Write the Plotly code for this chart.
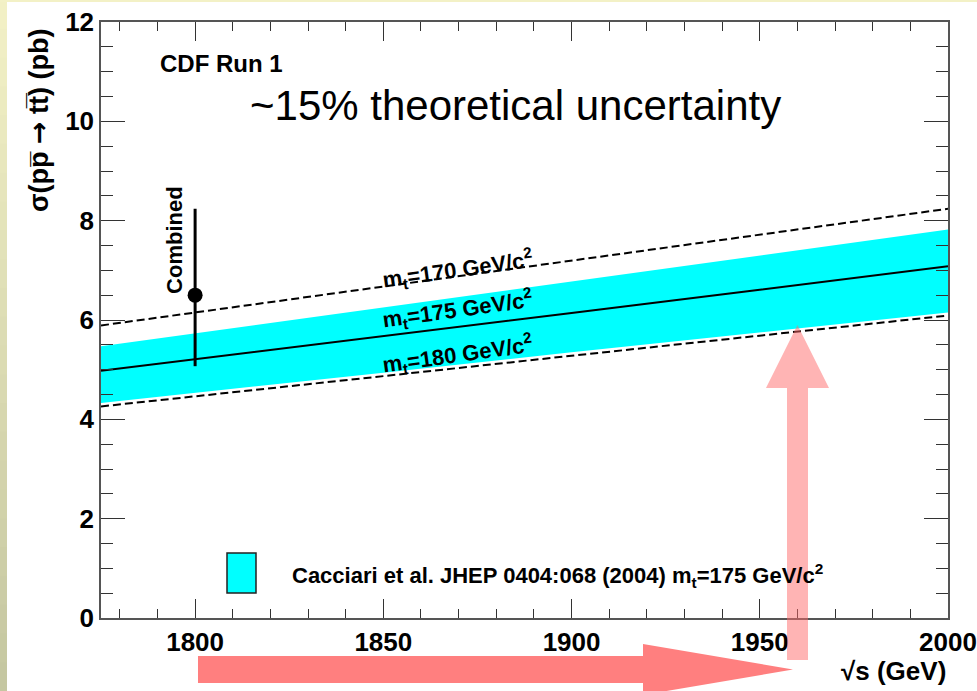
import plotly.graph_objects as go

# ---------------- data ----------------
sqrt_s = [1775, 1800, 1850, 1900, 1950, 2000]
band_upper = [5.47, 5.73, 6.25, 6.78, 7.30, 7.82]
band_lower = [4.33, 4.53, 4.94, 5.35, 5.75, 6.15]
xsec_mt175 = [4.98, 5.21, 5.67, 6.14, 6.61, 7.08]
xsec_mt170 = [5.89, 6.15, 6.67, 7.19, 7.72, 8.24]
xsec_mt180 = [4.26, 4.46, 4.87, 5.28, 5.68, 6.09]

meas_x = [1800]
meas_y = [6.5]
meas_err_up = [1.74]
meas_err_down = [1.43]

x_ticks = [1800, 1850, 1900, 1950, 2000]
y_ticks = [0, 2, 4, 6, 8, 10, 12]

# ---------------- layout geometry ----------------
W, H = 977, 691
ML, MR, MT, MB = 101, 29, 22, 73
PW = W - ML - MR
PH = H - MT - MB


def px(x):
    return (x - ML) / PW


def py(y):
    return (H - MB - y) / PH


FONT = "Liberation Sans, Arial, sans-serif"
fig = go.Figure()

fig.add_trace(go.Scatter(x=sqrt_s, y=band_lower, mode="lines", line=dict(width=0, color="#00FFFF"),
                         showlegend=False, hoverinfo="skip"))
fig.add_trace(go.Scatter(x=sqrt_s, y=band_upper, mode="lines", line=dict(width=0, color="#00FFFF"),
                         fill="tonexty", fillcolor="#00FFFF", showlegend=False,
                         name="Cacciari et al. JHEP 0404:068 (2004)"))
fig.add_trace(go.Scatter(x=sqrt_s, y=xsec_mt170, mode="lines",
                         line=dict(color="black", width=2, dash="8px,4px"), showlegend=False))
fig.add_trace(go.Scatter(x=sqrt_s, y=xsec_mt180, mode="lines",
                         line=dict(color="black", width=2, dash="8px,4px"), showlegend=False))
fig.add_trace(go.Scatter(x=sqrt_s, y=xsec_mt175, mode="lines",
                         line=dict(color="black", width=2), showlegend=False))
fig.add_trace(go.Scatter(x=meas_x, y=meas_y, mode="markers",
                         marker=dict(color="black", size=15),
                         error_y=dict(type="data", symmetric=False, array=meas_err_up,
                                      arrayminus=meas_err_down, color="black",
                                      thickness=3, width=0),
                         showlegend=False))

axis_common = dict(showgrid=False, zeroline=False, showline=True, linecolor="#555555",
                   linewidth=1.5, ticks="inside", tickcolor="#333333", tickwidth=1.2,
                   mirror="allticks",
                   tickfont=dict(family=FONT, size=26, color="black", weight="bold"))

fig.update_xaxes(range=[1775, 2000], tickvals=x_ticks, ticktext=[str(v) for v in x_ticks],
                 ticklen=19, minor=dict(dtick=10, tick0=1800, ticklen=9, ticks="inside",
                                        tickcolor="#333333", tickwidth=1.2),
                 automargin=False, **axis_common)
fig.update_yaxes(range=[0, 12], tickvals=y_ticks, ticktext=[str(v) for v in y_ticks],
                 ticklen=24, minor=dict(dtick=0.5, tick0=0, ticklen=12, ticks="inside",
                                        tickcolor="#333333", tickwidth=1.2),
                 automargin=False, **axis_common)

shapes = []
# slide background strips
c_top = (243, 241, 198)
c_bot = (196, 198, 160)
N = 24
for i in range(N):
    t = (i + 0.5) / N
    col = tuple(int(round(c_top[k] + (c_bot[k] - c_top[k]) * t)) for k in range(3))
    shapes.append(dict(type="rect", xref="paper", yref="paper",
                       x0=px(0), x1=px(7), y0=py(H * i / N), y1=py(H * (i + 1) / N + 1),
                       fillcolor="rgb(%d,%d,%d)" % col, line=dict(width=0), layer="below"))
shapes.append(dict(type="rect", xref="paper", yref="paper", x0=px(0), x1=px(W), y0=py(0), y1=py(2),
                   fillcolor="rgb(243,241,198)", line=dict(width=0), layer="below"))

# legend box
shapes.append(dict(type="rect", xref="paper", yref="paper", x0=px(227), x1=px(256), y0=py(593), y1=py(553),
                   fillcolor="#00FFFF", line=dict(color="#222222", width=1.5), layer="above"))


def poly(pts):
    return "M " + " L ".join("%.5f,%.5f" % (px(a), py(b)) for a, b in pts) + " Z"


# horizontal arrow
shapes.append(dict(type="path", xref="paper", yref="paper",
                   path=poly([(198, 656), (643, 656), (643, 644), (793, 669.5), (643, 695), (643, 683), (198, 683)]),
                   fillcolor="#FF7F7F", line=dict(width=0), layer="above"))
# vertical translucent arrow
shapes.append(dict(type="path", xref="paper", yref="paper",
                   path=poly([(787, 660), (787, 388), (766, 388), (797.5, 325), (829, 388), (808, 388), (808, 660)]),
                   fillcolor="rgba(255,105,105,0.5)", line=dict(width=0), layer="above"))

annotations = []


def ann(text, x, y, size, xanchor="center", angle=0, xref="paper", yref="paper", bold=True):
    annotations.append(dict(text=("<b>%s</b>" % text) if bold else text, x=x, y=y, xref=xref, yref=yref,
                            xanchor=xanchor, yanchor="middle", textangle=angle, showarrow=False,
                            font=dict(family=FONT, size=size, color="black")))


ann("σ(pp\u0305 <span style=\"font-family:DejaVu Sans\">→</span> tt\u0305) (pb)", px(38), py(120), 27, angle=-90)
ann("√s (GeV)", px(948), py(671), 26, xanchor="right")
ann("CDF Run 1", px(158), py(63), 24, xanchor="left")
ann("~15% theoretical uncertainty", px(248), py(105), 42, xanchor="left", bold=False)
ann("Combined", 1794.5, 7.62, 22, angle=-90, xref="x", yref="y")
ann("m<sub>t</sub>=170 GeV/c<sup>2</sup>", 1869.6, 7.02, 22, angle=-8, xref="x", yref="y")
ann("m<sub>t</sub>=175 GeV/c<sup>2</sup>", 1869.6, 6.21, 22, angle=-8, xref="x", yref="y")
ann("m<sub>t</sub>=180 GeV/c<sup>2</sup>", 1869.6, 5.30, 22, angle=-8, xref="x", yref="y")
ann("Cacciari et al. JHEP 0404:068 (2004) m<sub>t</sub>=175 GeV/c<sup>2</sup>", px(290), py(575), 22, xanchor="left")

fig.update_layout(width=W, height=H, margin=dict(l=ML, r=MR, t=MT, b=MB, autoexpand=False),
                  paper_bgcolor="white", plot_bgcolor="white", showlegend=False,
                  shapes=shapes, annotations=annotations, font=dict(family=FONT))

fig.write_html("out.html", config={"displayModeBar": False},
               post_script="document.body.style.margin='0';document.body.style.padding='0';"
                           "document.body.style.overflow='hidden';")
